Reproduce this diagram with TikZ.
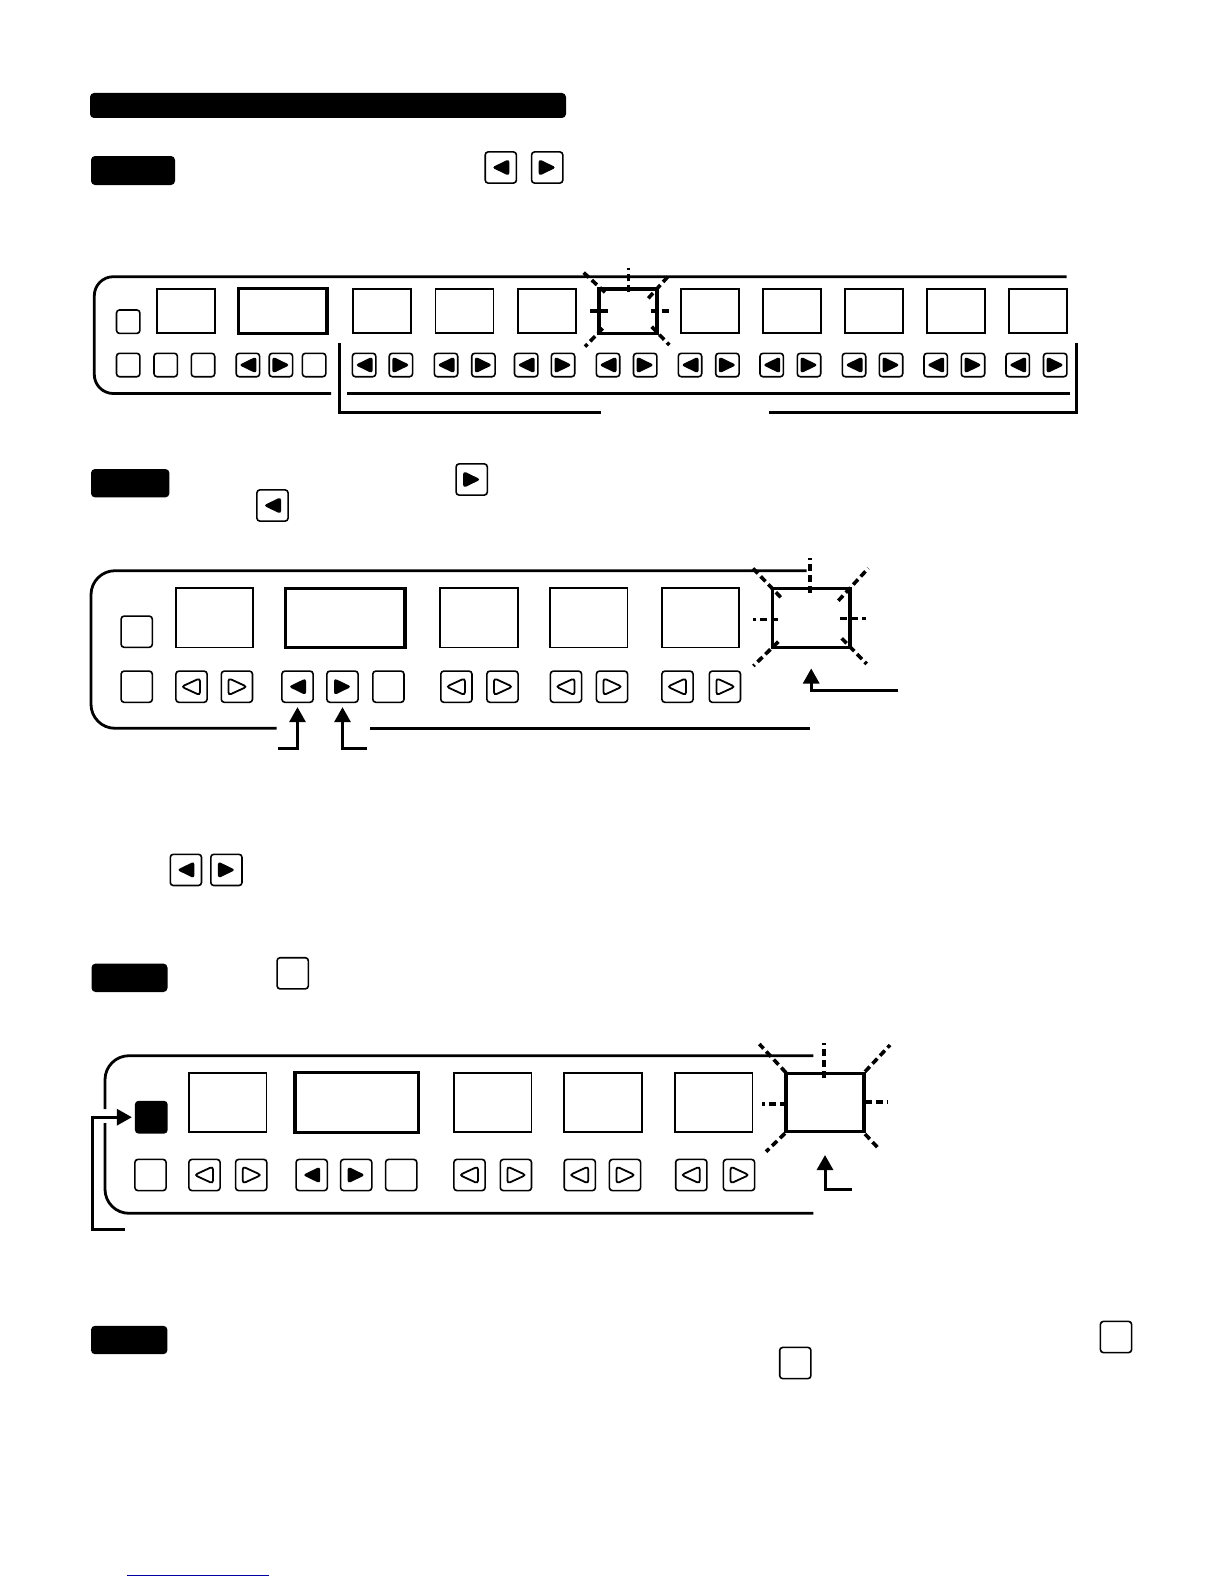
\documentclass[tikz,border=0pt]{standalone}
\usepackage{tikz}
\usetikzlibrary{arrows.meta}
\definecolor{linkblue}{RGB}{0,0,160}

\begin{document}
\begin{tikzpicture}[
    x=0.5pt, y=-0.5pt,
    bar/.style={fill=black, rounded corners=2pt, inner sep=0pt, minimum height=14.2pt},
    panel/.style={line width=1.4pt},
    disp/.style={draw, line width=0.85pt, inner sep=0pt, minimum width=38.7pt, minimum height=29.6pt},
    sdisp/.style={disp, minimum width=29pt, minimum height=22.2pt},
    hot/.style={line width=1.7pt},
    btn/.style={draw, rounded corners=1.5pt, line width=0.8pt, inner sep=0pt, minimum size=15.6pt},
    sbtn/.style={btn, minimum size=11.7pt},
    larr/.style={path picture={\fill[shift={(path picture bounding box.center)}, scale=#1] (-9,0) -- (8.5,-8.5) -- (8.5,8.5) -- cycle;}},
    larr/.default=1,
    rarr/.style={path picture={\fill[shift={(path picture bounding box.center)}, scale=#1] (9,0) -- (-8.5,-8.5) -- (-8.5,8.5) -- cycle;}},
    rarr/.default=1,
    lout/.style={path picture={\draw[line width=0.9pt, shift={(path picture bounding box.center)}] (-10,0) -- (8.5,-8.5) -- (8.5,8.5) -- cycle;}},
    rout/.style={path picture={\draw[line width=0.9pt, shift={(path picture bounding box.center)}] (10,0) -- (-8.5,-8.5) -- (-8.5,8.5) -- cycle;}},
    blink/.style={line width=1.8pt, dash pattern=on 3.5pt off 2pt},
    callout/.style={line width=1.5pt, -{Triangle[length=7.5pt, width=8pt]}},
    brk/.style={line width=1.5pt}
]
\useasboundingbox (0,0) rectangle (1224,1584);

% Heading bar and step 1 marker with its key pair
\node[bar, minimum width=238pt, minimum height=12.5pt] (title) at (328,105.5) {};
\node[bar, minimum width=42pt, minimum height=14.5pt] (st1) at (133,170.5) {};
\node[btn, larr] (st1l) at (500.8,167.5) {};
\node[btn, rarr] (st1r) at (547.2,167.5) {};

% Panel 1: open on the right, bottom edge broken by the bracket
\draw[panel, rounded corners=9.5pt] (1066.7,276.7) -| (94.3,393.5) -- (331,393.5);
\draw[panel] (347,393.5) -- (1070,393.5);
\node[sbtn] (p1led) at (128.2,321.7) {};

% Panel 1 displays, the fourth channel one is lit
\node[sdisp] (p1a) at (186,311) {};
\node[sdisp, hot, minimum width=44.4pt, minimum height=22.5pt] (p1b) at (282.6,311) {};
\node[sdisp] (p1c) at (382.3,311) {};
\node[sdisp] (p1d) at (464.5,311) {};
\node[sdisp] (p1e) at (546.8,311) {};
\node[sdisp, hot] (p1f) at (627.9,311) {};
\node[sdisp] (p1g) at (710,311) {};
\node[sdisp] (p1h) at (792.2,311) {};
\node[sdisp] (p1i) at (873.9,311) {};
\node[sdisp] (p1j) at (956.2,311) {};
\node[sdisp] (p1k) at (1038.3,311) {};

% Panel 1 key row
\node[sbtn] (p1s1) at (128.2,365) {};
\node[sbtn] (p1s2) at (165.7,365) {};
\node[sbtn] (p1s3) at (203,365) {};
\node[sbtn, larr=0.8] (p1bl) at (247.9,365) {}; \node[sbtn, rarr=0.8] (p1br) at (280.9,365) {};
\node[sbtn] (p1s4) at (314.1,365) {};
\node[sbtn, larr=0.8] (p1cl) at (364.1,365) {}; \node[sbtn, rarr=0.8] (p1cr) at (400.9,365) {};
\node[sbtn, larr=0.8] (p1dl) at (446,365) {}; \node[sbtn, rarr=0.8] (p1dr) at (483.4,365) {};
\node[sbtn, larr=0.8] (p1el) at (526.2,365) {}; \node[sbtn, rarr=0.8] (p1er) at (563,365) {};
\node[sbtn, larr=0.8] (p1fl) at (608,365) {}; \node[sbtn, rarr=0.8] (p1fr) at (645.2,365) {};
\node[sbtn, larr=0.8] (p1gl) at (690,365) {}; \node[sbtn, rarr=0.8] (p1gr) at (727.4,365) {};
\node[sbtn, larr=0.8] (p1hl) at (771.7,365) {}; \node[sbtn, rarr=0.8] (p1hr) at (809,365) {};
\node[sbtn, larr=0.8] (p1il) at (854,365) {}; \node[sbtn, rarr=0.8] (p1ir) at (891,365) {};
\node[sbtn, larr=0.8] (p1jl) at (935.7,365) {}; \node[sbtn, rarr=0.8] (p1jr) at (973,365) {};
\node[sbtn, larr=0.8] (p1kl) at (1017.7,365) {}; \node[sbtn, rarr=0.8] (p1kr) at (1055.2,365) {};

% Bracket under the channel keys
\draw[brk] (339.6,343) |- (601,412.3);
\draw[brk] (769.3,412.3) -| (1076.7,343);

% Flashing marks round p1f
\draw[blink] (628.3,292.3) -- (628.3,267.7);
\draw[blink] (607.7,311) -- (586,311);
\draw[blink] (650.7,311) -- (671.7,311);
\draw[blink] (605,292.3) -- (583.3,272.3);
\draw[blink] (648.3,298.3) -- (670,274.3);
\draw[blink] (602.7,328.3) -- (585,346.7);
\draw[blink] (651.7,326.7) -- (669.3,345);

% Step 2 marker and keys
\node[bar, minimum width=39.2pt] (st2) at (130.2,483.2) {};
\node[btn, rarr] (st2r) at (471.7,479.5) {};
\node[btn, larr] (st2l) at (272.5,505.5) {};

% Panel 2
\draw[panel, rounded corners=12pt] (806.7,570.7) -| (91,728.3) -- (276.7,728.3);
\draw[panel] (370,728.3) -- (810,728.3);
\node[btn] (p2led) at (136.7,631.7) {};
\node[disp] (p2a) at (214.5,617.8) {};
\node[disp, hot, minimum width=59.7pt] (p2b) at (345.4,617.8) {};
\node[disp] (p2c) at (479,617.8) {};
\node[disp] (p2d) at (588.7,617.8) {};
\node[disp] (p2e) at (700.5,617.8) {};
\node[disp, hot] (p2f) at (811.2,617.8) {};

\node[btn] (p2s1) at (136.7,686.7) {};
\node[btn, lout] (p2al) at (191.5,686.7) {}; \node[btn, rout] (p2ar) at (236.9,686.7) {};
\node[btn, larr] (p2bl) at (297.5,686.7) {}; \node[btn, rarr] (p2br) at (342.5,686.7) {};
\node[btn] (p2s2) at (388.4,686.7) {};
\node[btn, lout] (p2cl) at (456.4,686.7) {}; \node[btn, rout] (p2cr) at (502.5,686.7) {};
\node[btn, lout] (p2dl) at (566,686.7) {}; \node[btn, rout] (p2dr) at (612,686.7) {};
\node[btn, lout] (p2el) at (677.5,686.7) {}; \node[btn, rout] (p2er) at (724.9,686.7) {};

% Pointers to the lit key pair and the display
\coordinate (p2ta) at (278.3,748.3);
\coordinate (p2tb) at (367.3,748.3);
\coordinate (p2tf) at (898.3,690);
\draw[callout, shorten >=2pt] (p2ta) -| (p2bl.south);
\draw[callout, shorten >=2pt] (p2tb) -| (p2br.south);
\draw[callout, shorten >=9.7pt] (p2tf) -| (p2f.south);

% Flashing marks round p2f
\draw[blink] (810,592.7) -- (810,558.3);
\draw[blink] (778.3,619.3) -- (753.3,619.3);
\draw[blink] (840,618.3) -- (866,618.3);
\draw[blink] (780.7,597.3) -- (750.7,566);
\draw[blink] (838.3,600.7) -- (868.3,568.3);
\draw[blink] (778.3,641.7) -- (753.3,666);
\draw[blink] (841.7,638.3) -- (866.7,664);

% Key pair between step 2 and step 3
\node[btn, larr] (midl) at (185.9,869.9) {};
\node[btn, rarr] (midr) at (226.4,869.9) {};

% Step 3 marker and key
\node[bar, minimum width=38pt] (st3) at (129.5,977.8) {};
\node[btn] (st3s) at (292.7,973.3) {};

% Panel 3, left edge broken by the pointer
\draw[panel, rounded corners=12pt] (813.3,1055.7) -| (105,1109);
\draw[panel, rounded corners=12pt] (105,1123) |- (813.3,1213.3);
\node[btn, fill=black] (p3led) at (151.3,1117.2) {};
\node[disp] (p3a) at (227.9,1102.3) {};
\node[disp, hot, minimum width=61.7pt, minimum height=30pt] (p3b) at (356.7,1102.3) {};
\node[disp] (p3c) at (492.9,1102.3) {};
\node[disp] (p3d) at (603,1102.3) {};
\node[disp] (p3e) at (713.7,1102.3) {};
\node[disp, hot, minimum width=39pt, minimum height=29.2pt] (p3f) at (825,1102.5) {};

\node[btn] (p3s1) at (150.5,1175) {};
\node[btn, lout] (p3al) at (204.5,1175) {}; \node[btn, rout] (p3ar) at (251.2,1175) {};
\node[btn, larr] (p3bl) at (311.7,1175) {}; \node[btn, rarr] (p3br) at (356.2,1175) {};
\node[btn] (p3s2) at (401.2,1175) {};
\node[btn, lout] (p3cl) at (469.5,1175) {}; \node[btn, rout] (p3cr) at (515.9,1175) {};
\node[btn, lout] (p3dl) at (579.8,1175) {}; \node[btn, rout] (p3dr) at (625,1175) {};
\node[btn, lout] (p3el) at (691.3,1175) {}; \node[btn, rout] (p3er) at (739,1175) {};

% Pointers to the lit lamp and the display
\coordinate (p3t) at (125,1229.3);
\coordinate (p3tf) at (851.7,1189.3);
\draw[callout, shorten >=1.5pt] (p3t) -- ++(-32.3,0) |- (p3led.west);
\draw[callout, shorten >=10.8pt] (p3tf) -| (p3f.south);

% Flashing marks round p3f
\draw[blink] (824,1078.3) -- (824,1042.7);
\draw[blink] (786.7,1104) -- (761.7,1104);
\draw[blink] (865,1101.7) -- (888.3,1101.7);
\draw[blink] (786,1072.7) -- (759.3,1044);
\draw[blink] (865,1071.7) -- (890,1045);
\draw[blink] (785,1133.3) -- (766,1151.7);
\draw[blink] (865,1134) -- (880,1150);

% Step 4 marker and keys
\node[bar, minimum width=38.2pt] (st4) at (129.2,1340) {};
\node[btn] (st4a) at (795.3,1363) {};
\node[btn] (st4b) at (1116,1337) {};

% Rule at the foot of the page
\draw[linkblue, line width=0.7pt] (126.7,1575.3) -- (269,1575.3);

\end{tikzpicture}
\end{document}
